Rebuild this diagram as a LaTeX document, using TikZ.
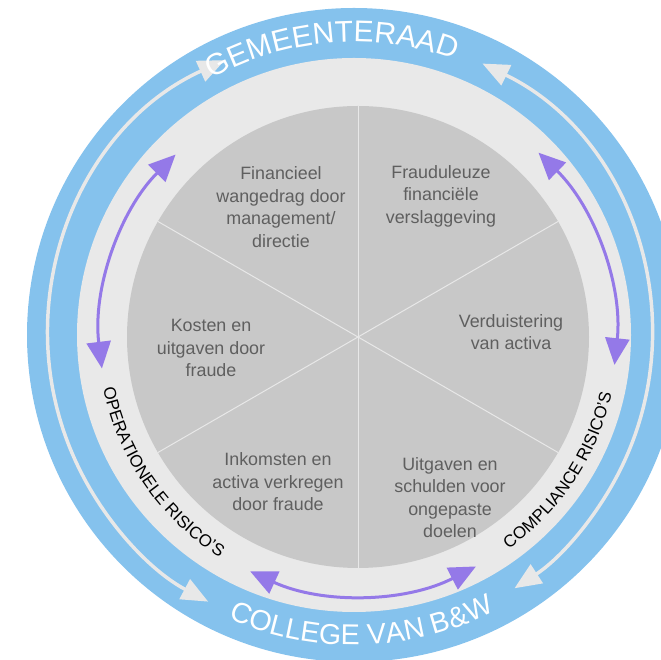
\documentclass[tikz,border=0pt]{standalone}
\usepackage{fontspec}
\setmainfont{Liberation Sans}
\usetikzlibrary{arrows.meta,decorations.text}
\definecolor{ringblue}{RGB}{133,194,237}
\definecolor{ringgray}{RGB}{233,233,233}
\definecolor{piegray}{RGB}{200,200,200}
\definecolor{spokecol}{RGB}{232,232,232}
\definecolor{purplearr}{RGB}{148,121,232}
\definecolor{lightarr}{RGB}{232,232,232}
\definecolor{pietext}{RGB}{95,95,95}
\newcommand{\bigringfont}{\fontsize{22.5}{22.5}\selectfont}
\newcommand{\collfont}{\fontsize{21.5}{21.5}\selectfont}
\newcommand{\riskfont}{\fontsize{12.75}{12.75}\selectfont}
\tikzset{
  pietxt/.style={align=center, text=pietext, font=\fontsize{13.4}{16.9}\selectfont, inner sep=0pt},
  spoke/.style={draw=spokecol, line width=0.75pt},
  purplearc/.style={draw=purplearr, line width=2.25pt,
    {Triangle[length=20pt,width=18pt]}-{Triangle[length=20pt,width=18pt]}},
  lightarc/.style={draw=lightarr, line width=2.6pt,
    {Triangle[length=20pt,width=16.5pt]}-{Triangle[length=20pt,width=16.5pt]}},
}
\begin{document}
\begin{tikzpicture}[x=0.75pt,y=0.75pt]
\useasboundingbox (0,0) rectangle (661,660);
\clip (0,0) rectangle (661,660);
\coordinate (R) at (354,325);
\coordinate (P) at (358,323);
\coordinate (T) at (350,325);
% rings
\fill[ringblue] (R) circle[radius=327];
\fill[ringgray] (R) circle[radius=277];
\fill[piegray] (P) circle[radius=231];
% spokes
\foreach \a in {30,90,150,210,270,330}
  \draw[spoke] (P) -- ++(\a:231);
% light arrows in blue ring
\draw[lightarc] (T) ++(114.5:302) arc[start angle=114.5, end angle=242, radius=302];
\draw[lightarc] (T) ++(64:302) arc[start angle=64, end angle=-57, radius=302];
% purple arrows
\draw[purplearc] (P) ++(135:258) arc[start angle=135, end angle=187, radius=258];
\draw[purplearc] (P) ++(45.6:258) arc[start angle=45.6, end angle=-6.2, radius=258];
\draw[purplearc] (P) ++(245.3:258) arc[start angle=245.3, end angle=297.2, radius=258];
% ring texts
\path[decorate, decoration={text along path, text align=center, text color=white,
  text={|\bigringfont|GEMEENTERAAD}}]
  (R) ++(150:293) arc[start angle=150, end angle=39, radius=293];
\path[decorate, decoration={text along path, text align=center, text color=white,
  text={|\collfont|COLLEGE VAN B{\&}W}}]
  (R) ++(216:310) arc[start angle=216, end angle=327, radius=310];
\path[decorate, decoration={text along path, text align=center, text color=black,
  text={|\riskfont|OPERATIONELE RISICO’S}}]
  (P) ++(165:260) arc[start angle=165, end angle=264.4, radius=260];
\path[decorate, decoration={text along path, text align=center, text color=black,
  text={|\riskfont|COMPLIANCE RISICO’S}}]
  (P) ++(-83:260) arc[start angle=-83, end angle=15.8, radius=260];
% pie texts
\node[pietxt] (fin) at (281,453) {Financieel\\wangedrag door\\management/\\directie};
\node[pietxt] (fraud) at (441,464) {Frauduleuze\\financiële\\verslaggeving};
\node[pietxt] (verd) at (511,328) {Verduistering\\van activa};
\node[pietxt] (kost) at (211,312) {Kosten en\\uitgaven door\\fraude};
\node[pietxt] (ink) at (278,178) {Inkomsten en\\activa verkregen\\door fraude};
\node[pietxt] (uitg) at (450,162.5) {Uitgaven en\\schulden voor\\ongepaste\\doelen};
\end{tikzpicture}
\end{document}
